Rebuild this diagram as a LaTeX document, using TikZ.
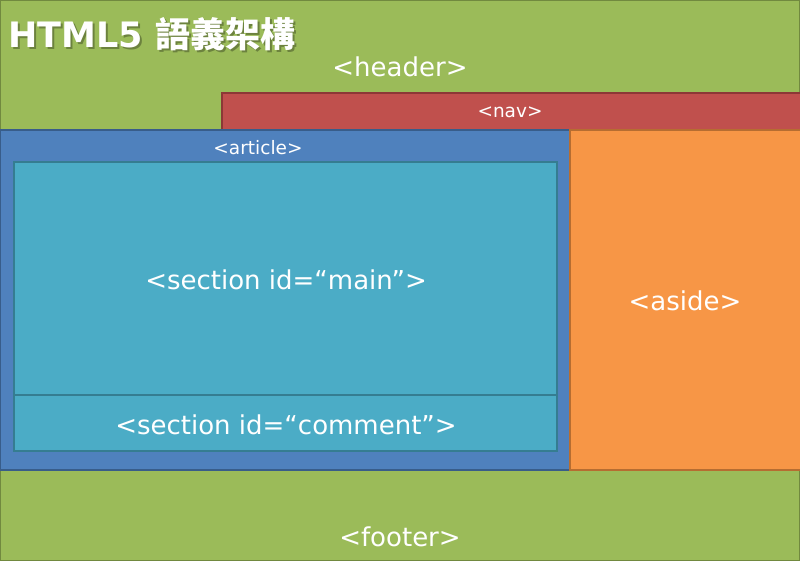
\documentclass[tikz,border=0pt]{standalone}
\usepackage{fontspec}
\setmainfont{DejaVu Sans}
\newfontfamily\cjk{Noto Sans CJK TC}
\definecolor{hgreen}{HTML}{9BBB59}
\definecolor{hgreenb}{HTML}{71893F}
\definecolor{hred}{HTML}{C0504D}
\definecolor{hredb}{HTML}{8C3836}
\definecolor{hblue}{HTML}{4F81BD}
\definecolor{hblueb}{HTML}{385D8A}
\definecolor{horange}{HTML}{F79646}
\definecolor{horangeb}{HTML}{B66D31}
\definecolor{haqua}{HTML}{4BACC6}
\definecolor{haquab}{HTML}{357D91}
\tikzset{
  box/.style={rectangle, draw, line width=2pt, inner sep=0pt, outer sep=0pt, anchor=north west},
  big/.style={text=white, font=\fontsize{26}{30}\selectfont, inner sep=0pt},
  small/.style={text=white, font=\fontsize{18.5}{22}\selectfont, inner sep=0pt},
  titlefont/.style={anchor=base west, inner sep=0pt, font=\fontsize{35}{40}\selectfont\bfseries},
}
\begin{document}
\begin{tikzpicture}[x=1pt,y=-1pt]
\useasboundingbox (0,0) rectangle (800,561);
\node[box, fill=hgreen, draw=hgreenb, minimum width=800pt, minimum height=130pt] (headerbox) at (0,0) {};
\node[box, fill=hgreen, draw=hgreenb, minimum width=800pt, minimum height=91pt] (footerbox) at (0,470) {};
\node[box, fill=hred, draw=hredb, minimum width=580pt, minimum height=37pt] (navbox) at (222,93) {};
\node[box, fill=hblue, draw=hblueb, minimum width=570pt, minimum height=340pt] (articlebox) at (0,130) {};
\node[box, fill=horange, draw=horangeb, minimum width=232pt, minimum height=340pt] (asidebox) at (570,130) {};
\node[box, fill=haqua, draw=haquab, minimum width=543pt, minimum height=233pt] (mainbox) at (14,162) {};
\node[box, fill=haqua, draw=haquab, minimum width=543pt, minimum height=56pt] (commentbox) at (14,395) {};
% title with soft shadow
\node[titlefont, text=black, opacity=0.3] (titleshadow) at (10,49.5) {HTML5 {\cjk\bfseries 語義架構}};
\node[titlefont, text=white] (title) at (8.5,48) {HTML5 {\cjk\bfseries 語義架構}};
\node[big] (header) at (400,67) {<header>};
\node[small] (nav) at (510,112) {<nav>};
\node[small] (article) at (258,148) {<article>};
\node[big] (main) at (286,280) {<section id=“main”>};
\node[big] (aside) at (685,301) {<aside>};
\node[big] (comment) at (286,425) {<section id=“comment”>};
\node[big] (footer) at (400,537) {<footer>};
\end{tikzpicture}
\end{document}
